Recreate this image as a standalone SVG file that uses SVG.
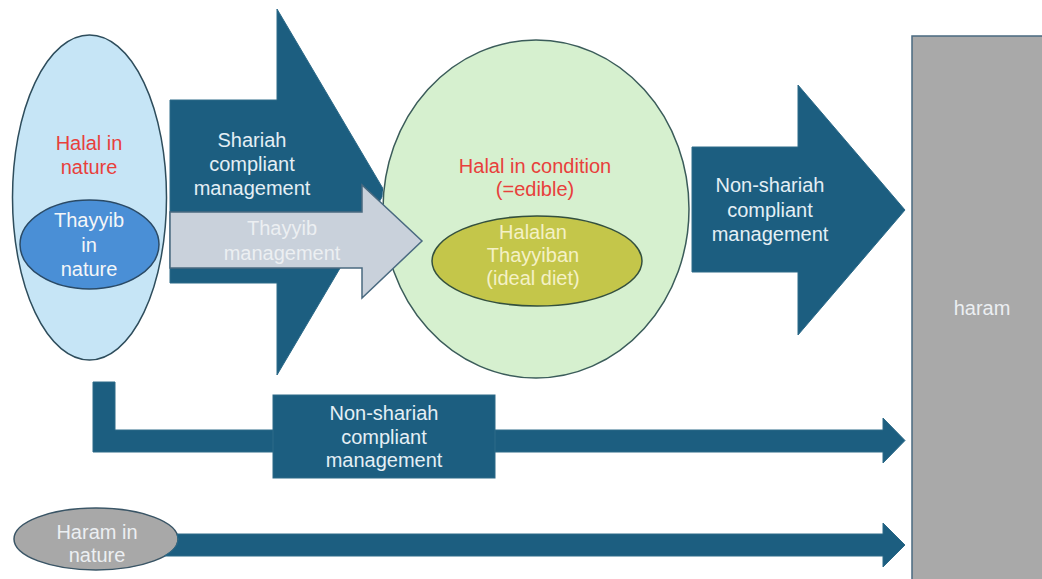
<svg xmlns="http://www.w3.org/2000/svg" width="1042" height="579" viewBox="0 0 1042 579">
<style>
text{font-family:"Liberation Sans",Arial,sans-serif;font-size:20px;text-anchor:middle}
.dark{fill:#1c5e80;stroke:#2d6a88;stroke-width:1}
.lt{fill:#e4eff5}
.red{fill:#e8403c}
.wh{fill:#f4f6f8}
.cream{fill:#f4f1c6}
.gr{fill:#eceff2}
</style>
<defs>
<mask id="circMask" maskUnits="userSpaceOnUse" x="0" y="0" width="1042" height="579">
<rect x="0" y="0" width="1042" height="579" fill="#fff"/>
<ellipse cx="536" cy="209" rx="154" ry="170" fill="#000"/>
</mask>
</defs>
<rect x="0" y="0" width="1042" height="579" fill="#fff"/>
<g id="nodes">
<g id="halal-nature">
<ellipse cx="89.5" cy="197.5" rx="77" ry="162.5" fill="#c6e5f6" stroke="#2e4d5c" stroke-width="1.5"/>
<text class="red" x="89" y="150">Halal in</text>
<text class="red" x="89" y="174">nature</text>
</g>
<g id="thayyib-nature">
<ellipse cx="89.5" cy="244.5" rx="69.5" ry="44.5" fill="#4a8fd6" stroke="#2a4a66" stroke-width="1.5"/>
<text class="wh" x="89" y="227">Thayyib</text>
<text class="wh" x="89" y="252">in</text>
<text class="wh" x="89" y="276">nature</text>
</g>
<g id="halal-condition">
<ellipse cx="536" cy="209" rx="153" ry="169" fill="#d6f0cf" stroke="#3b5c5a" stroke-width="1.5"/>
<text class="red" x="535" y="173">Halal in condition</text>
<text class="red" x="535" y="196">(=edible)</text>
</g>
<g id="halalan-thayyiban">
<ellipse cx="537" cy="261" rx="105" ry="45" fill="#c4c64a" stroke="#34503e" stroke-width="1.5"/>
<text class="cream" x="533" y="239">Halalan</text>
<text class="cream" x="533" y="262">Thayyiban</text>
<text class="cream" x="533" y="285">(ideal diet)</text>
</g>
<g id="haram">
<rect x="912" y="36" width="132" height="546" fill="#a9a9a9" stroke="#4a6a80" stroke-width="1.5"/>
<text class="gr" x="982" y="315">haram</text>
</g>
<g id="haram-nature">
<ellipse cx="96" cy="539" rx="82" ry="31" fill="#a8a8a8" stroke="#3a5566" stroke-width="1.5"/>
<text class="gr" x="97" y="539">Haram in</text>
<text class="gr" x="97" y="562">nature</text>
</g>
</g>
<g id="connectors">
<g id="shariah-arrow">
<path class="dark" mask="url(#circMask)" d="M170,100 H277 V9 L385,192 L277,375 V283 H170 Z"/>
<text class="lt" x="252" y="147">Shariah</text>
<text class="lt" x="252" y="171">compliant</text>
<text class="lt" x="252" y="195">management</text>
</g>
<g id="thayyib-arrow">
<path d="M170,212 H362 V185 L422,241 L362,298 V268 H170 Z" fill="#c9d1db" stroke="#4a6a80" stroke-width="1.5"/>
<text class="gr" x="282" y="235">Thayyib</text>
<text class="gr" x="282" y="260">management</text>
</g>
<g id="non-shariah-arrow-upper">
<path class="dark" d="M692,147 H798 V85 L905,210 L798,335 V272 H692 Z"/>
<text class="lt" x="770" y="192">Non-shariah</text>
<text class="lt" x="770" y="217">compliant</text>
<text class="lt" x="770" y="241">management</text>
</g>
<g id="non-shariah-arrow-lower">
<path class="dark" d="M93,382 H115 V430 H883 V418 L905,440.5 L883,463 V452 H93 Z"/>
<rect class="dark" x="273" y="395" width="222" height="83"/>
<text class="lt" x="384" y="420">Non-shariah</text>
<text class="lt" x="384" y="444">compliant</text>
<text class="lt" x="384" y="467">management</text>
</g>
<g id="haram-arrow">
<path class="dark" d="M177,534 H883 V523 L905,545 L883,567 V556 H164.6 A82,31 0 0 0 177,534 Z"/>
</g>
</g>
</svg>
